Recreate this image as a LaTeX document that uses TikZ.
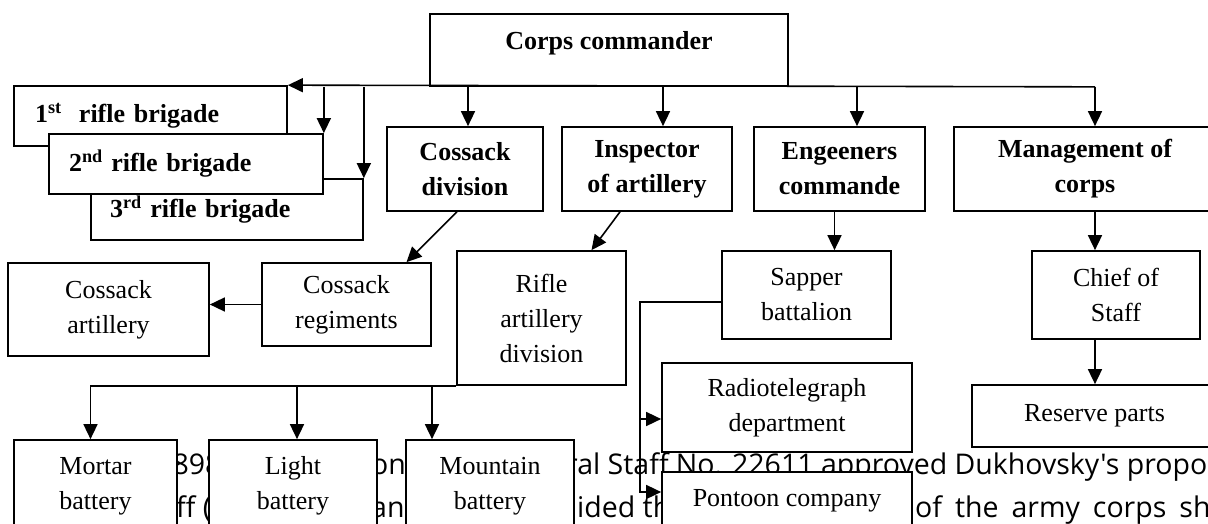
\documentclass[tikz,border=0pt]{standalone}
\usepackage{fontspec}
\setmainfont{Liberation Serif}
\newfontfamily\pagefont{Open Sans}
\usetikzlibrary{arrows.meta}

\tikzset{
  unit/.style={draw, line width=1.7pt, fill=white, inner sep=0pt, align=center,
    font=\fontsize{26}{35}\selectfont},
  head/.style={unit, font=\fontsize{26}{35}\selectfont\bfseries},
  brig/.style={head, align=left},
  arr/.style={line width=1.6pt, -{Triangle[length=15pt,width=14pt]}},
  page/.style={anchor=base west, inner sep=0pt, font=\pagefont\fontsize{28.5}{28.5}\selectfont}
}

\begin{document}
\begin{tikzpicture}[x=1pt, y=-1pt]
\useasboundingbox (0,0) rectangle (1208,524);

% Page text behind the chart
\node[page] (p1) at (156,474) {1898};
\node[page] (p2) at (371,474) {on};
\node[page] (p3) at (566,474) {ral Staff No. 22611 approved Dukhovsky's propo};
\node[page] (p4) at (176,517) {ff (};
\node[page] (p5) at (371,517) {an};
\node[page] (p6) at (577,517) {ided th};
\node[page] (p7) at (915,517) {\spaceskip=13pt of the army corps sh};

% Top
\node[head, minimum width=358, minimum height=72, text depth=19pt] (cmd) at (609,50) {Corps commander};

% Rifle brigades
\node[brig, inner xsep=21pt, text width=231pt, minimum height=60] (b1) at (150.5,116) {1\textsuperscript{st}~ rifle brigade};
\node[brig, inner xsep=19pt, text width=234pt, minimum height=61] (b3) at (227,209.5) {3\textsuperscript{rd} rifle brigade};
\node[brig, inner xsep=20pt, text width=234pt, minimum height=60] (b2) at (186,164) {2\textsuperscript{nd} rifle brigade};

% Second level
\node[head, minimum width=156, minimum height=84] (cdiv) at (465,169) {Cossack\\division};
\node[head, minimum width=170, minimum height=84] (insp) at (647,169) {Inspector\\of artillery};
\node[head, minimum width=171, minimum height=84] (eng) at (839.5,169) {Engeeners\\commande};
\node[head, minimum width=262, minimum height=84] (mgmt) at (1085,169) {Management of\\corps};

% Third level
\node[unit, minimum width=169, minimum height=83] (cregs) at (346.5,304.5) {Cossack\\regiments};
\node[unit, minimum width=201, minimum height=93] (cart) at (108.5,309.5) {Cossack\\artillery};
\node[unit, minimum width=169, minimum height=134] (rart) at (541.5,318) {Rifle\\artillery\\division};
\node[unit, minimum width=169, minimum height=88] (sapper) at (806.5,295) {Sapper\\battalion};
\node[unit, minimum width=168, minimum height=88] (chief) at (1116,295) {Chief of\\Staff};

% Lower units
\node[unit, minimum width=250, minimum height=89] (radio) at (787,407.5) {Radiotelegraph\\department};
\node[unit, minimum width=250, minimum height=58] (pontoon) at (787,501) {Pontoon company};
\node[unit, minimum width=245, minimum height=62] (reserve) at (1094.5,416) {Reserve parts};
\node[unit, minimum width=163, minimum height=92] (mortar) at (95.5,486) {Mortar\\battery};
\node[unit, minimum width=168, minimum height=92] (light) at (293,486) {Light\\battery};
\node[unit, minimum width=168, minimum height=92] (mountain) at (490,486) {Mountain\\battery};

% From the commander
\draw[arr] ([xshift=10pt]mgmt.north |- cmd.south) -- (b1.north east);
\draw[arr] (b2.north east |- cmd.south) -- (b2.north east);
\draw[arr] (b3.north east |- cmd.south) -- (b3.north east);
\draw[arr] ([xshift=3pt]cdiv.north |- cmd.south) -- ([xshift=3pt]cdiv.north);
\draw[arr] ([xshift=16pt]insp.north |- cmd.south) -- ([xshift=16pt]insp.north);
\draw[arr] ([xshift=17.5pt]eng.north |- cmd.south) -- ([xshift=17.5pt]eng.north);
\draw[arr] ([xshift=10pt]mgmt.north |- cmd.south) -- ([xshift=10pt]mgmt.north);

% Cossacks and artillery
\draw[arr] ([xshift=-8pt]cdiv.south) -- ([xshift=60pt]cregs.north);
\draw[arr] (cregs.west) -- (cregs.west -| cart.east);
\draw[arr] ([xshift=-27pt]insp.south) -- ([xshift=50pt]rart.north);
\draw[arr] (rart.south west) -| ([xshift=-5pt]mortar.north);
\draw[arr] ([xshift=4pt]light.north |- rart.south) -- ([xshift=4pt]light.north);
\draw[arr] ([xshift=-58pt]mountain.north |- rart.south) -- ([xshift=-58pt]mountain.north);

% Engineers
\draw[arr] ([xshift=-5pt]eng.south) -- ([xshift=-5pt]eng.south |- sapper.north);
\draw[arr] ([yshift=-7pt]sapper.west) -| ([xshift=-21pt,yshift=9pt]pontoon.west) -- ([yshift=9pt]pontoon.west);
\draw[arr] ([xshift=-21pt,yshift=-11.5pt]radio.west) -- ([yshift=-11.5pt]radio.west);

% Staff
\draw[arr] ([xshift=10pt]mgmt.south) -- ([xshift=10pt]mgmt.south |- chief.north);
\draw[arr] ([xshift=-21pt]chief.south) -- ([xshift=-21pt]chief.south |- reserve.north);
\end{tikzpicture}
\end{document}
